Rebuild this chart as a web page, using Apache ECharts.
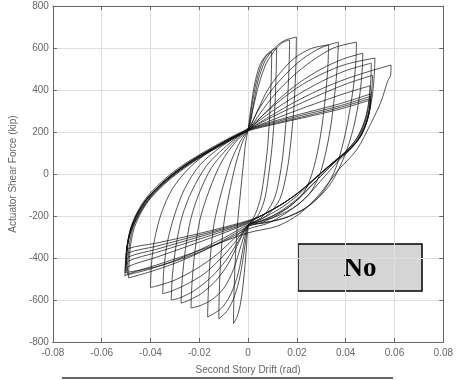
<!DOCTYPE html>
<html>
<head>
<meta charset="utf-8">
<script src="https://cdn.jsdelivr.net/npm/echarts@6/dist/echarts.min.js"></script>
<style>
  html, body { margin: 0; padding: 0; background: #fff; }
  #chart { width: 456px; height: 380px; }
</style>
</head>
<body>
<div id="chart"></div>
<script>
// axis ranges / ticks
const xMin = -0.08, xMax = 0.08, xStep = 0.02;
const yMin = -800, yMax = 800, yStep = 200;

// hysteresis cycles, [drift (rad), shear (kip)]
const bigLoop1 = [[-0.05,-385],[-0.0495,-335],[-0.0485,-290],[-0.047,-245],[-0.044,-180],[-0.04,-112],[-0.033,-30],[-0.026,33],[-0.019,85],[-0.0125,128],[-0.006,170],[0,205],[0.012,240],[0.025,274],[0.038,310],[0.05,352],[0.0497,300],[0.048,230],[0.045,160],[0.04,100],[0.034,45],[0.027,-25],[0.02,-95],[0.013,-150],[0.006,-195],[0,-222],[-0.012,-260],[-0.025,-297],[-0.038,-330],[-0.049,-355],[-0.05,-385]];
const bigLoop2 = [[-0.05,-405],[-0.0496,-345],[-0.0486,-292],[-0.0471,-243],[-0.0442,-176],[-0.0402,-108],[-0.0332,-27],[-0.0262,36],[-0.0192,88],[-0.0127,131],[-0.0062,172],[0,208],[0.012,244],[0.025,280],[0.038,318],[0.05,360],[0.0498,305],[0.0482,235],[0.0452,164],[0.0402,103],[0.0342,48],[0.0272,-22],[0.0202,-92],[0.0132,-148],[0.0062,-193],[0,-225],[-0.012,-266],[-0.025,-306],[-0.038,-345],[-0.049,-375],[-0.05,-405]];
const bigLoop3 = [[-0.05,-428],[-0.0497,-360],[-0.0488,-296],[-0.0473,-240],[-0.0445,-172],[-0.0405,-104],[-0.0335,-24],[-0.0265,39],[-0.0195,90],[-0.013,133],[-0.0065,174],[0,210],[0.012,250],[0.025,288],[0.038,326],[0.0502,370],[0.0499,312],[0.0484,240],[0.0455,168],[0.0405,106],[0.0345,50],[0.0275,-20],[0.0205,-90],[0.0135,-146],[0.0065,-192],[0,-228],[-0.012,-272],[-0.025,-316],[-0.038,-360],[-0.049,-395],[-0.05,-428]];
const bigLoop4 = [[-0.0502,-450],[-0.0498,-375],[-0.049,-300],[-0.0476,-238],[-0.0448,-168],[-0.0408,-100],[-0.0338,-20],[-0.0268,42],[-0.0198,93],[-0.0133,136],[-0.0068,177],[0,213],[0.012,256],[0.025,296],[0.038,336],[0.0504,382],[0.05,318],[0.0486,245],[0.0458,172],[0.0408,110],[0.0348,53],[0.0278,-17],[0.0208,-88],[0.0138,-144],[0.0068,-190],[0,-232],[-0.012,-280],[-0.025,-328],[-0.038,-375],[-0.049,-415],[-0.0502,-450]];
const fanLoop1 = [[-0.05,-465],[-0.0497,-390],[-0.0489,-310],[-0.0474,-245],[-0.0446,-175],[-0.0406,-108],[-0.0336,-28],[-0.0266,35],[-0.0196,87],[-0.013,130],[-0.0065,172],[0,210],[0.01,258],[0.02,303],[0.03,345],[0.04,385],[0.05,420],[0.0498,360],[0.049,300],[0.047,228],[0.044,160],[0.04,108],[0.034,48],[0.027,-28],[0.02,-105],[0.013,-165],[0.006,-210],[0,-236],[-0.012,-290],[-0.025,-345],[-0.038,-398],[-0.049,-440],[-0.05,-465]];
const fanLoop2 = [[-0.0495,-480],[-0.0492,-400],[-0.0484,-318],[-0.047,-250],[-0.0442,-178],[-0.0402,-110],[-0.0332,-30],[-0.0262,33],[-0.0192,86],[-0.0127,129],[-0.0062,171],[0,212],[0.01,272],[0.02,328],[0.03,380],[0.04,428],[0.051,470],[0.0507,400],[0.0498,320],[0.048,245],[0.0452,172],[0.041,112],[0.035,50],[0.028,-30],[0.021,-110],[0.014,-172],[0.007,-218],[0,-242],[-0.01,-305],[-0.02,-362],[-0.03,-412],[-0.04,-452],[-0.0495,-480]];
const fanLoop3 = [[-0.049,-495],[-0.0487,-410],[-0.048,-325],[-0.0466,-255],[-0.0438,-182],[-0.0398,-113],[-0.0328,-33],[-0.0258,30],[-0.0188,84],[-0.0124,127],[-0.006,169],[0,215],[0.01,300],[0.02,375],[0.03,440],[0.04,492],[0.0505,528],[0.0503,450],[0.0496,355],[0.048,262],[0.0452,182],[0.041,118],[0.035,52],[0.028,-32],[0.021,-115],[0.014,-180],[0.007,-225],[0,-250],[-0.01,-315],[-0.02,-375],[-0.03,-425],[-0.04,-465],[-0.049,-495]];
const fanLoop4 = [[-0.0505,-470],[-0.0501,-395],[-0.0492,-315],[-0.0477,-248],[-0.0449,-177],[-0.0409,-110],[-0.0339,-30],[-0.0269,34],[-0.0199,86],[-0.0133,130],[-0.0068,171],[0,218],[0.01,320],[0.02,410],[0.03,475],[0.04,522],[0.052,552],[0.0517,470],[0.051,380],[0.0495,285],[0.0468,200],[0.043,130],[0.037,62],[0.03,-30],[0.023,-120],[0.015,-190],[0.008,-235],[0,-262],[-0.01,-320],[-0.02,-372],[-0.03,-415],[-0.04,-448],[-0.0505,-470]];
const outerLoop = [[-0.0505,-485],[-0.05,-400],[-0.0492,-320],[-0.0478,-252],[-0.045,-180],[-0.041,-112],[-0.034,-32],[-0.027,32],[-0.02,85],[-0.0134,129],[-0.0068,170],[0,212],[0.01,282],[0.02,348],[0.03,405],[0.04,452],[0.05,490],[0.0586,519],[0.0584,470],[0.0572,442],[0.0545,345],[0.0505,245],[0.0445,115],[0.037,19],[0.029,-100],[0.021,-190],[0.012,-248],[0,-280],[-0.012,-330],[-0.025,-385],[-0.038,-435],[-0.048,-472],[-0.0505,-485]];
const sailB1 = [[-0.0315,-600],[-0.031,-480],[-0.0295,-340],[-0.027,-200],[-0.023,-80],[-0.017,40],[-0.01,122],[-0.004,180],[0,212],[0.004,300],[0.009,390],[0.015,470],[0.022,545],[0.03,602],[0.037,628],[0.0366,520],[0.0355,380],[0.0335,200],[0.03,19],[0.026,-80],[0.02,-150],[0.012,-200],[0.005,-226],[0,-242],[-0.004,-320],[-0.009,-410],[-0.015,-490],[-0.022,-555],[-0.028,-590],[-0.0315,-600]];
const sailB2 = [[-0.035,-570],[-0.0345,-450],[-0.033,-320],[-0.03,-190],[-0.026,-70],[-0.02,40],[-0.012,122],[-0.005,176],[0,210],[0.005,290],[0.011,380],[0.018,462],[0.026,537],[0.035,600],[0.0444,628],[0.0442,540],[0.043,400],[0.04,200],[0.036,30],[0.031,-80],[0.024,-160],[0.015,-210],[0.006,-233],[0,-246],[-0.005,-320],[-0.011,-400],[-0.018,-475],[-0.026,-530],[-0.032,-560],[-0.035,-570]];
const sailB3 = [[-0.04,-540],[-0.0396,-430],[-0.0383,-310],[-0.0355,-185],[-0.031,-70],[-0.024,30],[-0.015,115],[-0.007,172],[0,208],[0.006,280],[0.013,360],[0.021,435],[0.03,500],[0.039,548],[0.047,575],[0.0468,500],[0.0458,380],[0.0432,220],[0.039,70],[0.033,-60],[0.025,-150],[0.016,-205],[0.007,-232],[0,-248],[-0.006,-310],[-0.013,-385],[-0.021,-450],[-0.03,-505],[-0.037,-532],[-0.04,-540]];
const sailB4 = [[-0.0275,-615],[-0.027,-500],[-0.0257,-360],[-0.0235,-215],[-0.02,-90],[-0.015,30],[-0.009,115],[-0.004,175],[0,210],[0.004,305],[0.008,400],[0.013,480],[0.019,552],[0.026,598],[0.033,615],[0.0327,510],[0.0317,370],[0.0298,190],[0.0268,25],[0.023,-85],[0.017,-155],[0.01,-200],[0.004,-228],[0,-245],[-0.004,-330],[-0.008,-425],[-0.013,-505],[-0.019,-568],[-0.024,-600],[-0.0275,-615]];
const sailA1 = [[-0.0166,-681],[-0.0163,-560],[-0.0155,-400],[-0.014,-240],[-0.011,-90],[-0.007,60],[-0.003,160],[0,212],[0.002,320],[0.004,440],[0.007,540],[0.011,602],[0.015,636],[0.0198,652],[0.0196,520],[0.0188,320],[0.0175,150],[0.016,19],[0.013,-120],[0.008,-195],[0.003,-228],[0,-245],[-0.002,-350],[-0.004,-470],[-0.007,-570],[-0.011,-640],[-0.0166,-681]];
const sailA2 = [[-0.0234,-638],[-0.023,-520],[-0.0218,-370],[-0.0198,-220],[-0.016,-80],[-0.011,55],[-0.005,155],[0,210],[0.002,310],[0.0045,430],[0.0075,528],[0.011,590],[0.014,625],[0.017,638],[0.0168,510],[0.016,320],[0.0148,150],[0.0135,25],[0.011,-110],[0.007,-190],[0.003,-226],[0,-243],[-0.003,-345],[-0.006,-455],[-0.01,-545],[-0.015,-600],[-0.02,-628],[-0.0234,-638]];
const sailA3 = [[-0.012,-690],[-0.0118,-560],[-0.0112,-400],[-0.01,-240],[-0.0078,-95],[-0.005,50],[-0.0022,155],[0,210],[0.0015,320],[0.0032,430],[0.0055,520],[0.0082,575],[0.0117,600],[0.0115,480],[0.0109,300],[0.0099,140],[0.0087,20],[0.007,-110],[0.0045,-190],[0.0015,-228],[0,-248],[-0.0015,-360],[-0.0032,-480],[-0.0055,-580],[-0.0085,-650],[-0.012,-690]];
const sailA4 = [[-0.006,-712],[-0.0058,-580],[-0.0053,-420],[-0.0045,-260],[-0.0033,-110],[-0.002,40],[-0.001,150],[0,212],[0.0012,320],[0.0027,430],[0.0047,515],[0.007,560],[0.0097,580],[0.0095,460],[0.0089,290],[0.008,130],[0.0068,10],[0.0052,-110],[0.003,-190],[0.001,-232],[0,-250],[-0.0008,-370],[-0.0018,-500],[-0.003,-610],[-0.0045,-680],[-0.006,-712]];

const loops = [bigLoop1, bigLoop2, bigLoop3, bigLoop4, fanLoop1, fanLoop2, fanLoop3, fanLoop4, outerLoop,
  sailB1, sailB2, sailB3, sailB4, sailA1, sailA2, sailA3, sailA4];

const chart = echarts.init(document.getElementById('chart'));
const labelStyle = { color: '#666', fontSize: 10, fontFamily: 'Liberation Sans, Arial, sans-serif' };
const axisCommon = {
  axisLine: { show: true, onZero: false, lineStyle: { color: '#666', width: 1 } },
  axisTick: { show: true, inside: true, length: 4, lineStyle: { color: '#666' } },
};

chart.setOption({
  animation: false,
  grid: { left: 51, right: 9, top: 6, bottom: 37, show: false },
  xAxis: [{
    type: 'value', min: xMin, max: xMax, interval: xStep,
    ...axisCommon,
    axisLabel: { ...labelStyle, margin: 6, formatter: v => Math.abs(v) < 1e-9 ? '0' : v.toFixed(2) },
    splitLine: { show: true, lineStyle: { color: '#dedede', width: 1 } },
    name: 'Second Story Drift (rad)', nameLocation: 'middle', nameGap: 23,
    nameTextStyle: { ...labelStyle }
  }, {
    type: 'value', min: xMin, max: xMax, interval: xStep, position: 'top',
    ...axisCommon, axisLabel: { show: false }, splitLine: { show: false }
  }],
  yAxis: [{
    type: 'value', min: yMin, max: yMax, interval: yStep,
    ...axisCommon,
    axisLabel: { ...labelStyle, margin: 4 },
    splitLine: { show: true, lineStyle: { color: '#dedede', width: 1 } },
    name: 'Actuator Shear Force (kip)', nameLocation: 'middle', nameGap: 25,
    nameTextStyle: { ...labelStyle }
  }, {
    type: 'value', min: yMin, max: yMax, interval: yStep, position: 'right',
    ...axisCommon, axisLabel: { show: false }, splitLine: { show: false }
  }],
  series: loops.map(d => ({
    type: 'line', data: d, xAxisIndex: 0, yAxisIndex: 0,
    showSymbol: false, symbol: 'none', smooth: 0.3, silent: true,
    lineStyle: { color: '#111', width: 0.9, opacity: 0.8 }
  })),
  graphic: [
    { type: 'rect', x: 298, y: 244, shape: { x: 0, y: 0, width: 124, height: 47 },
      style: { fill: '#d5d5d5', stroke: '#000', lineWidth: 1.5 } },
    { type: 'text', x: 360, y: 269,
      style: { text: 'No', font: 'bold 27px "Liberation Serif", serif', fill: '#000',
               textAlign: 'center', textVerticalAlign: 'middle' } },
    { type: 'line', shape: { x1: 62, y1: 378, x2: 393, y2: 378 },
      style: { stroke: '#333', lineWidth: 1.5 } }
  ]
});
</script>
</body>
</html>
